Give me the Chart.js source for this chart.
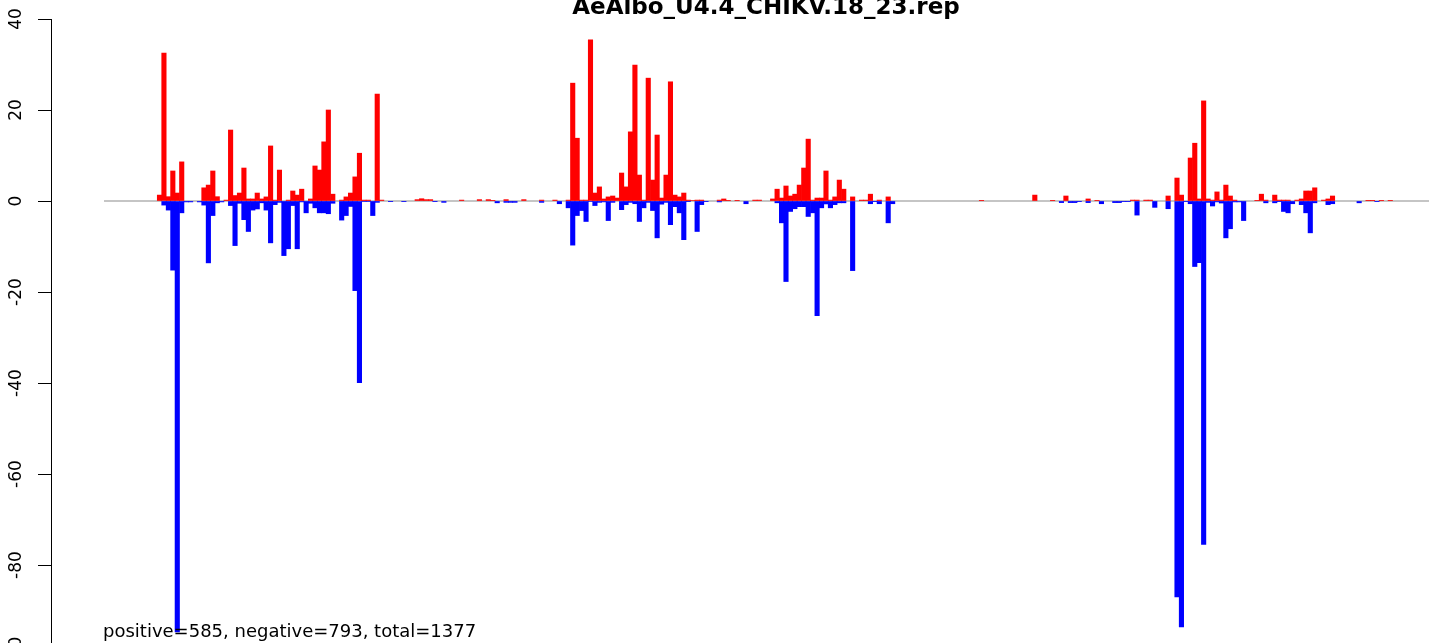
<!DOCTYPE html>
<html>
<head>
<meta charset="utf-8">
<script src="https://cdn.jsdelivr.net/npm/chart.js@4.4.0/dist/chart.umd.min.js"></script>
<style>
  html, body { margin: 0; padding: 0; background: #fff; overflow: hidden; }
  #wrap { position: relative; width: 1429px; height: 643px; overflow: hidden; }
  #chart { position: absolute; left: 0; top: 0; }
  .title { position: absolute; left: 766px; top: -5px; transform: translateX(-50%);
           font: bold 23px "DejaVu Sans"; line-height: 23px; white-space: nowrap; color: #000; }
  .note { position: absolute; left: 103px; top: 622px;
          font: 18px "DejaVu Sans"; line-height: 18px; white-space: nowrap; color: #000; }
</style>
</head>
<body>
<div id="wrap">
  <canvas id="chart" width="1490" height="680"></canvas>
  <div class="title" id="title"></div>
  <div class="note" id="note"></div>
</div>
<script>
// bins along the genome (bin 0 is the first one after the axis gap)
const nBins = 298;

// red bars (positive strand)
const positive = [
  0, 0, 0, 0, 0, 0, 0, 0, 0, 0,                      // 0
  0, 0, 1.3, 32.5, 0.95, 6.6, 1.75, 8.6, 0, 0,       // 10
  0, 0, 2.9, 3.5, 6.6, 0.95, 0, 0.2, 15.6, 1.2,      // 20
  1.75, 7.25, 0.45, 0.45, 1.75, 0.45, 0.9, 12.1, 0.2, 6.8, // 30
  0, 0.2, 2.2, 1.3, 2.6, 0, 0.45, 7.7, 6.8, 13.0,    // 40
  20.0, 1.5, 0, 0.2, 0.9, 1.75, 5.3, 10.5, 0.2, 0.2, // 50
  0, 23.5, 0.2, 0, 0, 0, 0, 0, 0, 0,                 // 60
  0.3, 0.5, 0.3, 0.3, 0, 0, 0, 0, 0, 0,              // 70
  0.2, 0, 0, 0, 0.3, 0, 0.3, 0.15, 0, 0,             // 80
  0.3, 0, 0, 0, 0.3, 0, 0, 0, 0.2, 0,                // 90
  0, 0.2, 0, 0, 0.2, 25.9, 13.8, 0.2, 0.2, 35.4,     // 100
  1.75, 3.1, 0.45, 0.9, 1.1, 0.65, 6.15, 3.1, 15.2, 29.9, // 110
  5.7, 0.2, 27.0, 4.6, 14.5, 0.65, 5.7, 26.2, 1.3, 0.9,   // 120
  1.75, 0.2, 0.1, 0.2, 0.2, 0, 0, 0, 0.2, 0.45,      // 130
  0.15, 0, 0.15, 0, 0, 0, 0.2, 0.2, 0, 0,            // 140
  0.45, 2.6, 0.65, 3.3, 1.1, 1.5, 3.5, 7.25, 13.6, 0.2,  // 150
  0.65, 0.65, 6.6, 0.2, 0.9, 4.6, 2.6, 0, 0.9, 0,    // 160
  0.2, 0.2, 1.5, 0, 0.2, 0, 0.9, 0, 0, 0,            // 170
  0, 0, 0, 0, 0, 0, 0, 0, 0, 0,                      // 180
  0, 0, 0, 0, 0, 0, 0, 0.15, 0, 0,                   // 190
  0, 0, 0, 0, 0, 0, 0, 0, 0, 1.3,                    // 200
  0, 0, 0, 0.15, 0, 0, 1.1, 0, 0, 0,                 // 210
  0, 0.45, 0, 0.15, 0, 0, 0, 0, 0, 0,                // 220
  0, 0.2, 0.2, 0, 0.2, 0.2, 0, 0, 0, 1.1,            // 230
  0, 5.05, 1.3, 0, 9.45, 12.7, 0.45, 22.0, 0.45, 0.2, // 240
  2.0, 0.2, 3.5, 1.1, 0.2, 0, 0, 0, 0, 0.15,         // 250
  1.5, 0.2, 0, 1.3, 0.2, 0.2, 0.2, 0, 0.2, 0.45,     // 260
  2.2, 2.2, 2.9, 0, 0.2, 0.45, 1.1, 0, 0, 0,         // 270
  0, 0, 0, 0, 0.15, 0.15, 0, 0.15, 0, 0.15,          // 280
  0, 0, 0, 0, 0, 0, 0, 0                             // 290
];

// blue bars (negative strand), stored as magnitudes
const negative = [
  0, 0, 0, 0, 0, 0, 0, 0, 0, 0,                      // 0
  0, 0, 0, 0.9, 2.0, 15.2, 94.7, 2.6, 0.2, 0.2,      // 10
  0, 0.2, 0.9, 13.6, 3.2, 0.4, 0.2, 0, 1.0, 9.8,     // 20
  0.5, 4.1, 6.7, 2.0, 1.75, 0.4, 2.0, 9.2, 0.8, 0.3, // 30
  12.0, 10.5, 1.0, 10.5, 0.2, 2.6, 0.5, 1.5, 2.6, 2.6, // 40
  2.8, 0.5, 0, 4.2, 3.2, 1.2, 19.7, 39.9, 0.1, 0.1,  // 50
  3.2, 0.3, 0, 0, 0.15, 0, 0, 0.15, 0, 0,            // 60
  0, 0, 0, 0, 0.15, 0, 0.3, 0, 0, 0,                 // 70
  0, 0, 0, 0, 0, 0, 0, 0, 0.4, 0,                    // 80
  0.3, 0.3, 0.3, 0, 0, 0, 0, 0, 0.3, 0,              // 90
  0, 0, 0.6, 0, 1.5, 9.7, 3.2, 2.1, 4.5, 0.1,        // 100
  1.0, 0.3, 0.2, 4.3, 0.3, 0, 1.9, 0.8, 0.3, 0.6,    // 110
  4.5, 1.5, 0.3, 2.1, 8.1, 0.7, 0.3, 5.2, 1.25, 2.6, // 120
  8.5, 0.15, 0, 6.7, 0.8, 0.15, 0, 0, 0.2, 0,        // 130
  0, 0, 0, 0, 0.6, 0, 0, 0, 0, 0,                    // 140
  0, 0.4, 4.8, 17.7, 2.3, 1.7, 1.25, 1.25, 3.4, 2.6, // 150
  25.2, 1.5, 0.65, 1.5, 0.8, 0.4, 0.4, 0, 15.3, 0,   // 160
  0, 0, 0.6, 0.15, 0.6, 0, 4.8, 0.6, 0, 0,           // 170
  0, 0, 0, 0, 0, 0, 0, 0, 0, 0,                      // 180
  0, 0, 0, 0, 0, 0, 0, 0, 0, 0,                      // 190
  0, 0, 0, 0, 0, 0, 0, 0, 0, 0,                      // 200
  0, 0, 0, 0, 0, 0.35, 0, 0.35, 0.35, 0.15,          // 210
  0, 0.35, 0, 0, 0.6, 0, 0, 0.35, 0.35, 0.15,        // 220
  0.15, 0, 3.1, 0, 0, 0, 1.4, 0, 0, 1.7,             // 230
  0, 87.0, 93.6, 0.15, 0.6, 14.4, 13.55, 75.5, 0.3, 1.1, // 240
  0.2, 0.45, 8.1, 6.1, 0.2, 0.2, 4.3, 0, 0, 0,       // 250
  0, 0.4, 0, 0.4, 0.15, 2.3, 2.6, 0.6, 0, 0.8,       // 260
  2.6, 7.0, 0.4, 0, 0, 0.8, 0.6, 0, 0, 0,            // 270
  0, 0, 0.4, 0, 0, 0, 0.15, 0, 0, 0,                 // 280
  0, 0, 0, 0, 0, 0, 0, 0                             // 290
];

const yTicks = [40, 20, 0, -20, -40, -60, -80, -100];
const titleText = 'AeAlbo_U4.4_CHIKV.18_23.rep';
const noteText = 'positive=585, negative=793, total=1377';

document.getElementById('title').textContent = titleText;
document.getElementById('note').textContent = noteText;

// R style: the x range runs 4% past the bars on each side
const pad = 0.04 * nBins;

// empty bins are left out so they don't paint over the grey zero line
const redBars = positive.map((v, i) => ({x: i + 0.5, y: v === 0 ? null : v}));
const blueBars = negative.map((v, i) => ({x: i + 0.5, y: v === 0 ? null : -v}));

// y labels in R are turned to read upwards
const rotatedTicks = {
  id: 'rotatedTicks',
  afterDraw(chart) {
    const scale = chart.scales.y;
    const ctx = chart.ctx;
    ctx.save();
    ctx.fillStyle = '#000';
    ctx.font = '17px "DejaVu Sans"';
    ctx.textAlign = 'center';
    ctx.textBaseline = 'alphabetic';
    yTicks.forEach(v => {
      ctx.save();
      ctx.translate(scale.right - 30, scale.getPixelForValue(v));
      ctx.rotate(-Math.PI / 2);
      ctx.fillText(String(v), 0, 0);
      ctx.restore();
    });
    ctx.restore();
  }
};

new Chart(document.getElementById('chart'), {
  type: 'bar',
  data: {
    datasets: [
      {
        type: 'line',
        data: [{x: 0, y: 0}, {x: nBins + pad, y: 0}],
        borderColor: '#8c8c8c',
        borderWidth: 1.2,
        pointRadius: 0,
        order: 5
      },
      {
        data: redBars,
        backgroundColor: '#ff0000',
        borderWidth: 0,
        grouped: false,
        barPercentage: 1,
        categoryPercentage: 1,
        order: 1
      },
      {
        data: blueBars,
        backgroundColor: '#0000ff',
        borderWidth: 0,
        grouped: false,
        barPercentage: 1,
        categoryPercentage: 1,
        order: 1
      }
    ]
  },
  options: {
    responsive: false,
    animation: false,
    devicePixelRatio: 1,
    layout: {padding: {left: 38, right: 9, top: 19, bottom: 24}},
    plugins: {
      legend: {display: false},
      tooltip: {enabled: false},
      title: {display: false}
    },
    scales: {
      x: {
        type: 'linear',
        display: false,
        offset: false,
        grid: {offset: false},
        min: -pad,
        max: nBins + pad,
        ticks: {stepSize: 50}
      },
      y: {
        min: -100,
        max: 40,
        ticks: {stepSize: 20, display: false},
        grid: {drawOnChartArea: false, color: '#000', tickLength: 13, lineWidth: 1},
        border: {display: true, color: '#000', width: 1}
      }
    }
  },
  plugins: [rotatedTicks]
});
</script>
</body>
</html>
